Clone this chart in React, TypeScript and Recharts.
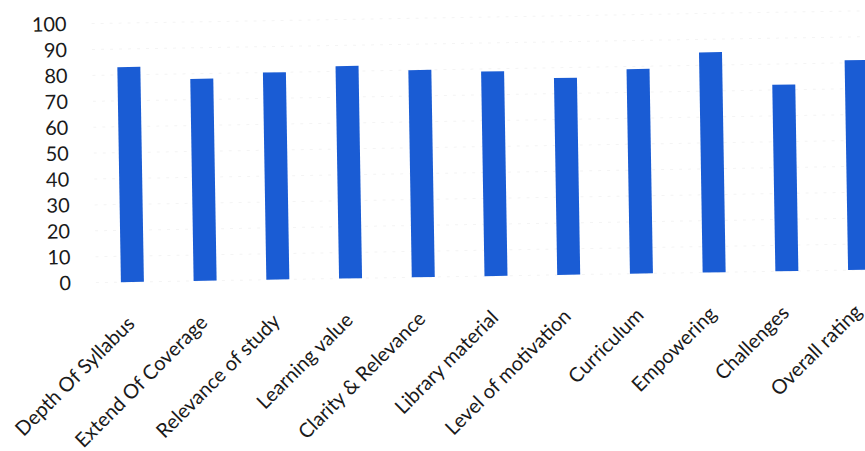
import React from 'react'
import { BarChart, Bar, XAxis, YAxis, CartesianGrid } from 'recharts'

const CATEGORIES = [
  'Depth Of Syllabus',
  'Extend Of Coverage',
  'Relevance of study',
  'Learning value',
  'Clarity & Relevance',
  'Library material',
  'Level of motivation',
  'Curriculum',
  'Empowering',
  'Challenges',
  'Overall rating',
]

const SCORES = [83, 78, 80, 82, 80, 79, 76, 79, 85, 72, 81]

const Y_TICKS = [0, 10, 20, 30, 40, 50, 60, 70, 80, 90, 100]

const FONT = 'Lato, Carlito, "Liberation Sans", sans-serif'
const BLUE = '#1a5cd4'

const data = CATEGORIES.map((name, i) => ({ name, value: SCORES[i] }))

// rotated category label, anchored at its end like Excel does
function AngledTick(props: any) {
  const { x, y, payload } = props
  return (
    <g transform={`translate(${x + 3},${y + 43})`}>
      <text
        textAnchor="end"
        transform="rotate(-44)"
        fill="#1a1a1a"
        fontSize={20}
        fontFamily={FONT}
      >
        {payload.value}
      </text>
    </g>
  )
}

export default function App() {
  return (
    <div style={{ position: 'fixed', left: 0, top: 0, width: 865, height: 451, overflow: 'hidden', background: '#fff' }}>
      {/* the source is a slightly tilted scan */}
      <div style={{ transform: 'rotate(-0.95deg)', transformOrigin: '432px 225px' }}>
        <BarChart
          width={895}
          height={451}
          data={data}
          margin={{ top: 18, right: 0, left: 0, bottom: 0 }}
        >
          <CartesianGrid vertical={false} stroke="#f4f4f4" strokeDasharray="3 6" />
          <XAxis
            dataKey="name"
            interval={0}
            height={174}
            axisLine={false}
            tickLine={false}
            tickSize={0}
            tickMargin={0}
            tick={<AngledTick />}
          />
          <YAxis
            domain={[0, 100]}
            ticks={Y_TICKS}
            interval={0}
            width={95}
            axisLine={false}
            tickLine={false}
            tickSize={0}
            tickMargin={25}
            tick={{ fontSize: 20, fill: '#1a1a1a', fontFamily: FONT }}
          />
          <Bar dataKey="value" fill={BLUE} barSize={23} isAnimationActive={false} />
        </BarChart>
      </div>
    </div>
  )
}
